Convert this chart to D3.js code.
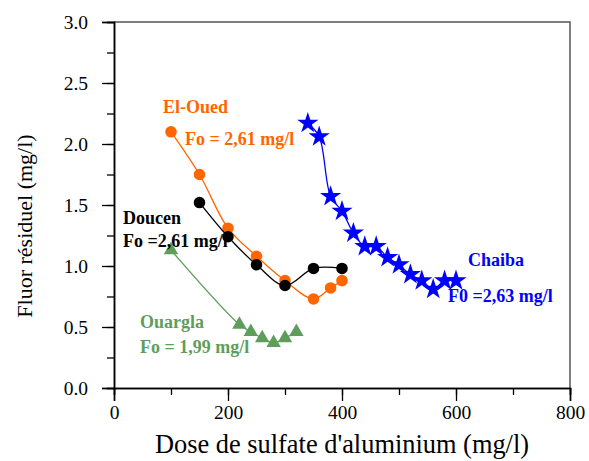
<!DOCTYPE html>
<html>
<head>
<meta charset="utf-8">
<script src="https://cdn.jsdelivr.net/npm/d3@7"></script>
<style>
  body { margin: 0; background: #fff; }
</style>
</head>
<body>
<div id="chart-area"></div>
<script>

const SERIF = "'Liberation Serif', 'Times New Roman', Times, serif";

// data (dose in mg/l, residual fluoride in mg/l)
let elOuedDose = [100, 150, 200, 250, 300, 350, 380, 400];
let elOuedF    = [2.10, 1.75, 1.31, 1.08, 0.88, 0.73, 0.82, 0.88];

let doucenDose = [150, 200, 250, 300, 350, 400];
let doucenF    = [1.52, 1.24, 1.01, 0.84, 0.98, 0.98];

let ouarglaDose = [100, 220, 240, 260, 280, 300, 320];
let ouarglaF    = [1.13, 0.52, 0.46, 0.41, 0.37, 0.41, 0.46];

let chaibaDose = [340, 360, 380, 400, 420, 440, 460, 480, 500, 520, 540, 560, 580, 600];
let chaibaF    = [2.17, 2.06, 1.57, 1.45, 1.27, 1.16, 1.16, 1.07, 1.01, 0.93, 0.88, 0.81, 0.88, 0.88];

let xTicks = [0, 200, 400, 600, 800];
let yTicks = [0, 0.5, 1.0, 1.5, 2.0, 2.5, 3.0];

let series = [
	{name: "eloued", dose: elOuedDose, f: elOuedF, color: "#ff6600", symbol: "circle",
	 labels: [{t: "El-Oued", x: 163, y: 113}, {t: "Fo = 2,61 mg/l", x: 185, y: 145}]},
	{name: "doucen", dose: doucenDose, f: doucenF, color: "#000000", symbol: "circle",
	 labels: [{t: "Doucen", x: 123, y: 224}, {t: "Fo =2,61 mg/l", x: 123, y: 247}]},
	{name: "ouargla", dose: ouarglaDose, f: ouarglaF, color: "#5e9e5a", symbol: "triangle",
	 labels: [{t: "Ouargla", x: 140, y: 328}, {t: "Fo = 1,99 mg/l", x: 140, y: 353}]},
	{name: "chaiba", dose: chaibaDose, f: chaibaF, color: "#0000ff", symbol: "star",
	 labels: [{t: "Chaiba", x: 468, y: 266}, {t: "F0 =2,63 mg/l", x: 448, y: 302}]}
];

let margin = {top: 22, right: 19, bottom: 73, left: 114};
let width = 589 - margin.left - margin.right;
let height = 461 - margin.top - margin.bottom;

let root = d3.select("#chart-area").append("svg")
	.attr("width", 589)
	.attr("height", 461)
	.attr("font-family", SERIF);

let svg = root.append("g")
	.attr("transform", "translate(" + margin.left + "," + margin.top + ")");

let x = d3.scaleLinear().domain([0, 800]).range([0, width]);
let y = d3.scaleLinear().domain([0, 3]).range([height, 0]);

// frame top/right
svg.append("path")
	.attr("d", "M0,0H" + width + "V" + height)
	.attr("fill", "none")
	.attr("stroke", "#555")
	.attr("stroke-width", 1.5);

// minor ticks
let xAxisMinor = d3.axisBottom(x).tickValues(d3.range(0, 801, 100)).tickSize(7).tickFormat("");
let yAxisMinor = d3.axisLeft(y).tickValues(d3.range(0, 3.01, 0.25)).tickSize(7).tickFormat("");

let xAxis = d3.axisBottom(x).tickValues(xTicks).tickSize(13).tickPadding(4).tickFormat(d3.format("d"));
let yAxis = d3.axisLeft(y).tickValues(yTicks).tickSize(12).tickPadding(14).tickFormat(d3.format(".1f"));

function styleAxis(g) {
	g.attr("font-family", SERIF).attr("font-size", 19.5);
	g.select(".domain").attr("stroke", "#000").attr("stroke-width", 1.5);
	g.selectAll("line").attr("stroke", "#000").attr("stroke-width", 1.3);
	g.selectAll("text").attr("fill", "#000");
}

svg.append("g").attr("transform", "translate(0," + height + ")").call(xAxisMinor).call(styleAxis);
svg.append("g").call(yAxisMinor).call(styleAxis);
svg.append("g").attr("class", "x-axis axis").attr("transform", "translate(0," + height + ")").call(xAxis).call(styleAxis);
svg.append("g").attr("class", "y-axis axis").call(yAxis).call(styleAxis);

// axis titles
root.append("text")
	.attr("x", 342)
	.attr("y", 453)
	.attr("text-anchor", "middle")
	.attr("font-size", 26.4)
	.text("Dose de sulfate d'aluminium (mg/l)");

root.append("text")
	.attr("transform", "translate(32,226) rotate(-90)")
	.attr("text-anchor", "middle")
	.attr("font-size", 22)
	.text("Fluor résiduel (mg/l)");

let line = d3.line()
	.x(d => x(d[0]))
	.y(d => y(d[1]))
	.curve(d3.curveCatmullRom.alpha(0.5));

let symbolTypes = {circle: d3.symbolCircle, triangle: d3.symbolTriangle, star: d3.symbolStar};
let symbolSizes = {circle: 105, triangle: 90, star: 140};

series.forEach(s => {
	let pts = s.dose.map((d, i) => [d, s.f[i]]);

	svg.append("path")
		.attr("fill", "none")
		.attr("stroke", s.color)
		.attr("stroke-width", 1.3)
		.attr("d", line(pts));

	svg.selectAll(".pt-" + s.name)
		.data(pts)
		.enter().append("path")
		.attr("class", "pt-" + s.name)
		.attr("transform", d => "translate(" + x(d[0]) + "," + y(d[1]) + ")")
		.attr("d", d3.symbol().type(symbolTypes[s.symbol]).size(symbolSizes[s.symbol]))
		.attr("fill", s.color);

	s.labels.forEach(l => {
		root.append("text")
			.attr("x", l.x)
			.attr("y", l.y)
			.attr("font-family", SERIF)
			.attr("font-size", 18)
			.attr("font-weight", "bold")
			.attr("fill", s.color)
			.text(l.t);
	});
});

</script>
</body>
</html>
